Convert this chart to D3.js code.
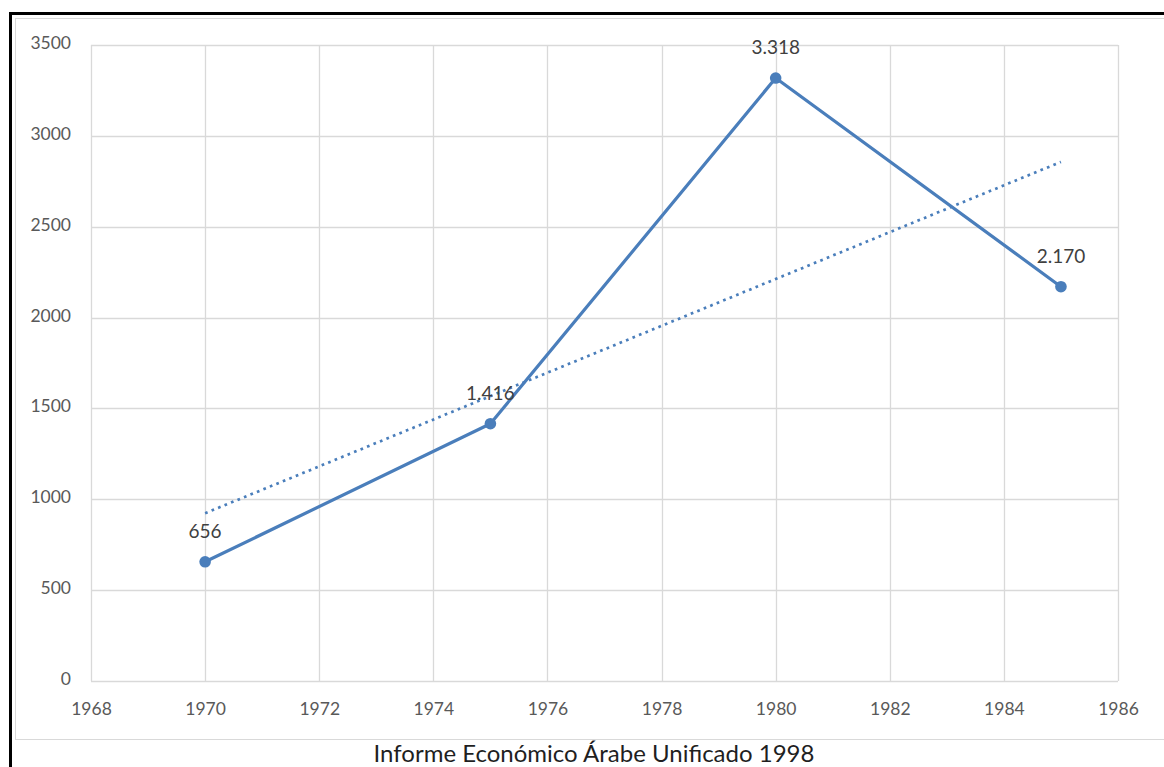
<!DOCTYPE html>
<html><head><meta charset="utf-8">
<script src="https://cdn.jsdelivr.net/npm/d3@7"></script>
<style>
html,body{margin:0;padding:0;background:#fff;}
svg{display:block;}
</style></head>
<body>
<svg id="c" width="1164" height="767"></svg>
<script>
const years = [1970, 1975, 1980, 1985];
const values = [656, 1416, 3318, 2170];
const valueLabels = ["656", "1.416", "3.318", "2.170"];
const xTicks = [1968, 1970, 1972, 1974, 1976, 1978, 1980, 1982, 1984, 1986];
const yTicks = [0, 500, 1000, 1500, 2000, 2500, 3000, 3500];
const caption = "Informe Económico Árabe Unificado 1998";

const svg = d3.select("#c");
const font = "Lato, 'Open Sans', sans-serif";
const blue = "#4a7ebb";

// frames
svg.append("rect").attr("x", 10.5).attr("y", 13.5).attr("width", 1170).attr("height", 800)
  .attr("fill", "none").attr("stroke", "#000").attr("stroke-width", 3);
svg.append("rect").attr("x", 15.5).attr("y", 18.5).attr("width", 1170).attr("height", 721)
  .attr("fill", "none").attr("stroke", "#d9d9d9").attr("stroke-width", 1);

const x = d3.scaleLinear().domain([1968, 1986]).range([91, 1118]);
const y = d3.scaleLinear().domain([0, 3500]).range([681, 45]);

const g = svg.append("g");
// gridlines
g.selectAll("line.v").data(xTicks).join("line")
  .attr("x1", d => Math.round(x(d)) + 0.5).attr("x2", d => Math.round(x(d)) + 0.5)
  .attr("y1", y(3500)).attr("y2", y(0)).attr("stroke", "#d9d9d9").attr("stroke-width", 1.3);
g.selectAll("line.h").data(yTicks).join("line")
  .attr("y1", d => Math.round(y(d)) + 0.5).attr("y2", d => Math.round(y(d)) + 0.5)
  .attr("x1", x(1968)).attr("x2", x(1986)).attr("stroke", "#d9d9d9").attr("stroke-width", 1.3);

// axes labels
const yAxis = d3.axisLeft(y).tickValues(yTicks).tickSize(0).tickPadding(20).tickFormat(d3.format("d"));
const ya = svg.append("g").attr("transform", `translate(${x(1968)},0)`).call(yAxis);
ya.select(".domain").remove();
ya.selectAll("text").attr("font-family", font).attr("font-size", 17.5).attr("fill", "#595959").attr("dy", "0.2em");

const xAxis = d3.axisBottom(x).tickValues(xTicks).tickSize(0).tickPadding(22).tickFormat(d3.format("d"));
const xa = svg.append("g").attr("transform", `translate(0,${y(0)})`).call(xAxis);
xa.select(".domain").remove();
xa.selectAll("text").attr("font-family", font).attr("font-size", 17.5).attr("fill", "#595959");

// trendline (least squares)
const mx = d3.mean(years), my = d3.mean(values);
const slope = d3.sum(years, (d, i) => (d - mx) * (values[i] - my)) / d3.sum(years, d => (d - mx) ** 2);
const icpt = my - slope * mx;
const tx = [years[0], years[years.length - 1]];
svg.append("line")
  .attr("x1", x(tx[0])).attr("y1", y(icpt + slope * tx[0]))
  .attr("x2", x(tx[1])).attr("y2", y(icpt + slope * tx[1]))
  .attr("stroke", blue).attr("stroke-width", 2.7).attr("stroke-dasharray", "2.7 4.3");

// series line
const pts = years.map((d, i) => [d, values[i]]);
svg.append("path").datum(pts)
  .attr("d", d3.line().x(d => x(d[0])).y(d => y(d[1])))
  .attr("fill", "none").attr("stroke", blue).attr("stroke-width", 3.2).attr("stroke-linejoin", "round");
svg.selectAll("circle.pt").data(pts).join("circle")
  .attr("cx", d => x(d[0])).attr("cy", d => y(d[1])).attr("r", 5.8).attr("fill", blue);

// data labels
svg.selectAll("text.lbl").data(pts).join("text")
  .attr("x", d => x(d[0])).attr("y", d => y(d[1]) - 24)
  .attr("text-anchor", "middle").attr("font-family", font).attr("font-size", 19)
  .attr("fill", "#404040").text((d, i) => valueLabels[i]);

// caption
svg.append("text").attr("x", 594).attr("y", 762).attr("text-anchor", "middle")
  .attr("font-family", font).attr("font-size", 24).attr("fill", "#1f1f1f").text(caption);
</script>
</body></html>
